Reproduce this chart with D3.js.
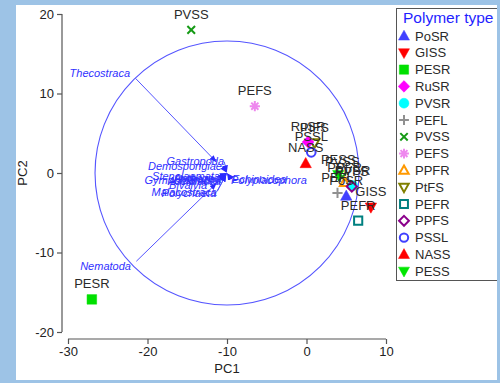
<!DOCTYPE html>
<html>
<head>
<meta charset="utf-8">
<script src="https://cdn.jsdelivr.net/npm/d3@7"></script>
<style>
  body { margin: 0; background: #9dc3e6; }
  svg { display: block; font-family: "Liberation Sans", Arial, sans-serif; }
</style>
</head>
<body>
<svg id="chart" width="500" height="383"></svg>
<script>
// polymer types (legend order) and their symbols
const types = ["PoSR", "GISS", "PESR", "RuSR", "PVSR", "PEFL", "PVSS", "PEFS", "PPFR", "PtFS", "PEFR", "PPFS", "PSSL", "NASS", "PESS"];
const shapes = ["triUp", "triDown", "square", "diamond", "circle", "plus", "x", "asterisk", "triUp", "triDown", "square", "diamond", "circle", "triUp", "triDown"];
const filled = [true, true, true, true, true, false, false, false, false, false, false, false, false, true, true];
const colors = ["#4040ff", "#ff0000", "#00e000", "#ff00ff", "#00ffff", "#909090", "#159a15", "#ee88ee", "#ff9900", "#808000", "#008080", "#8b008b", "#4040ff", "#ff0000", "#00e600"];

// sample scores
const sampleType = ["PVSS", "PEFS", "PESR", "PtFS", "RuSR", "PSSL", "NASS", "PESS", "PVSS", "PPFR", "PVSR", "PPFS", "PEFL", "PoSR", "GISS", "PEFR"];
const pc1 = [-14.5, -6.5, -27.0, 1.0, 0.2, 0.6, -0.1, 4.0, 4.5, 4.8, 5.8, 5.7, 3.9, 5.0, 8.1, 6.5];
const pc2 = [18.0, 8.4, -15.9, 3.8, 3.9, 2.6, 1.2, -0.2, -0.5, -1.2, -1.6, -1.7, -2.5, -2.9, -4.3, -6.0];

// taxa loadings (relative to circle centre, in PC units)
const taxa = ["Thecostraca", "Nematoda", "Gastropoda", "Demospongiae", "Stenolaemata", "Gymnolaemata", "Hydrozoa", "Anthozoa", "Ascidiacea", "Bivalvia", "Malacostraca", "Polychaeta", "Polyplacophora", "Echinoidea"];
const loadX = [-11.5, -11.4, -0.35, -0.6, -0.83, -0.95, -0.7, -0.8, -0.7, -2.37, -1.19, -1.3, 0.47, 0.6];
const loadY = [11.9, -11.1, 1.42, 0.83, -0.36, -0.83, -0.7, -0.6, -0.95, -1.42, -2.25, -2.37, -0.83, -0.7];
const circleCentre = [-10, 0];
const circleRadius = 16.6;

const xTicks = [-30, -20, -10, 0, 10];
const yTicks = [-20, -10, 0, 10, 20];

const svg = d3.select("#chart");

// white panel
svg.append("rect").attr("x", 16).attr("y", 5).attr("width", 481).attr("height", 375).attr("fill", "#fff");

const x = d3.scaleLinear().domain([-30, 10]).range([68, 386]);
const y = d3.scaleLinear().domain([-20, 20]).range([332, 14]);

function symPath(shape, r) {
  switch (shape) {
    case "triUp": return `M0,${-r}L${r * 0.95},${r * 0.7}L${-r * 0.95},${r * 0.7}Z`;
    case "triDown": return `M0,${r}L${r * 0.95},${-r * 0.7}L${-r * 0.95},${-r * 0.7}Z`;
    case "square": return `M${-r * 0.8},${-r * 0.8}H${r * 0.8}V${r * 0.8}H${-r * 0.8}Z`;
    case "diamond": return `M0,${-r}L${r},0L0,${r}L${-r},0Z`;
    case "circle": return d3.arc()({ innerRadius: 0, outerRadius: r * 0.85, startAngle: 0, endAngle: 2 * Math.PI });
    case "plus": return `M${-r},0H${r}M0,${-r}V${r}`;
    case "x": return `M${-r * 0.75},${-r * 0.75}L${r * 0.75},${r * 0.75}M${r * 0.75},${-r * 0.75}L${-r * 0.75},${r * 0.75}`;
    case "asterisk": return `M${-r},0H${r}M0,${-r}V${r}M${-r * 0.7},${-r * 0.7}L${r * 0.7},${r * 0.7}M${r * 0.7},${-r * 0.7}L${-r * 0.7},${r * 0.7}`;
  }
}

function drawSym(g, type, cx, cy, r) {
  const i = types.indexOf(type);
  const c = colors[i];
  const fill = filled[i];
  g.append("path")
    .attr("transform", `translate(${cx},${cy})`)
    .attr("d", symPath(shapes[i], fill ? r : r * 0.85))
    .attr("fill", fill ? c : "none")
    .attr("stroke", c)
    .attr("stroke-width", fill ? 0.5 : 2);
}

// axes
const xa = svg.append("g").attr("transform", "translate(0,339)")
  .call(d3.axisBottom(x).tickValues(xTicks).tickSize(5).tickPadding(3).tickFormat(d3.format("d")));
const ya = svg.append("g").attr("transform", "translate(62,0)")
  .call(d3.axisLeft(y).tickValues(yTicks).tickSize(5).tickPadding(3).tickFormat(d3.format("d")));
[xa, ya].forEach(a => {
  a.selectAll("path, line").attr("stroke", "#555").attr("stroke-width", 1.2);
  a.selectAll("text").attr("font-size", 13).attr("fill", "#222").attr("font-family", "Liberation Sans, Arial, sans-serif");
  a.select(".domain").attr("d", null);
});
xa.append("line").attr("x1", x(-30)).attr("x2", x(10)).attr("stroke", "#555").attr("stroke-width", 1.2);
ya.append("line").attr("y1", y(-20)).attr("y2", y(20)).attr("stroke", "#555").attr("stroke-width", 1.2);
xa.selectAll("text").text(d => d < 0 ? "-" + Math.abs(d) : d);
ya.selectAll("text").text(d => d < 0 ? "-" + Math.abs(d) : d);

svg.append("text").attr("x", 227).attr("y", 373).attr("text-anchor", "middle")
  .attr("font-size", 13).attr("fill", "#222").text("PC1");
svg.append("text").attr("transform", "translate(27,173) rotate(-90)").attr("text-anchor", "middle")
  .attr("font-size", 13).attr("fill", "#222").text("PC2");

// correlation circle and taxa arrows (pointing towards the centre)
const cx0 = x(circleCentre[0]), cy0 = y(circleCentre[1]);
const unit = x(1) - x(0);
svg.append("circle").attr("cx", cx0).attr("cy", cy0).attr("r", circleRadius * unit)
  .attr("fill", "none").attr("stroke", "#5555ff").attr("stroke-width", 1.1);

svg.append("defs").append("marker")
  .attr("id", "ah").attr("viewBox", "0 0 10 10").attr("refX", 9).attr("refY", 5)
  .attr("markerWidth", 7).attr("markerHeight", 7).attr("markerUnits", "userSpaceOnUse").attr("orient", "auto")
  .append("path").attr("d", "M0,1L10,5L0,9Z").attr("fill", "#2a2aff");

const tg = svg.append("g");
taxa.forEach((t, i) => {
  const tx = x(circleCentre[0] + loadX[i]), ty = y(circleCentre[1] + loadY[i]);
  const ex = cx0 + (tx - cx0) * 0.12, ey = cy0 + (ty - cy0) * 0.12;
  tg.append("line").attr("x1", tx).attr("y1", ty).attr("x2", ex).attr("y2", ey)
    .attr("stroke", "#5555ff").attr("stroke-width", 1).attr("marker-end", "url(#ah)");
  const lx = cx0 + (tx - cx0) * 1.06, ly = cy0 + (ty - cy0) * 1.06;
  tg.append("text").attr("x", lx).attr("y", ly).attr("dy", "0.35em")
    .attr("text-anchor", loadX[i] < 0 ? "end" : "start")
    .attr("font-size", 11).attr("font-style", "italic").attr("fill", "#3030ff").text(t);
});

// sample points and labels
const pg = svg.append("g");
sampleType.forEach((t, i) => {
  drawSym(pg, t, x(pc1[i]), y(pc2[i]), 6);
});
sampleType.forEach((t, i) => {
  pg.append("text").attr("x", x(pc1[i])).attr("y", y(pc2[i]) - 11)
    .attr("text-anchor", "middle").attr("font-size", 13).attr("fill", "#2a2a2a").text(t);
});

// legend
const lg = svg.append("g");
lg.append("rect").attr("x", 396.5).attr("y", 8.5).attr("width", 110).attr("height", 272)
  .attr("fill", "#fff").attr("stroke", "#555").attr("stroke-width", 1);
lg.append("text").attr("x", 403).attr("y", 23).attr("font-size", 15.5).attr("fill", "#1f1fff").text("Polymer type");
types.forEach((t, i) => {
  const yy = 36 + i * 16.8;
  drawSym(lg, t, 404, yy, 5.8);
  lg.append("text").attr("x", 415).attr("y", yy).attr("dy", "0.35em")
    .attr("font-size", 13).attr("fill", "#2a2a2a").text(t);
});
// frame colour over the legend's right overflow
svg.append("rect").attr("x", 497).attr("y", 0).attr("width", 3).attr("height", 383).attr("fill", "#9dc3e6");
</script>
</body>
</html>
